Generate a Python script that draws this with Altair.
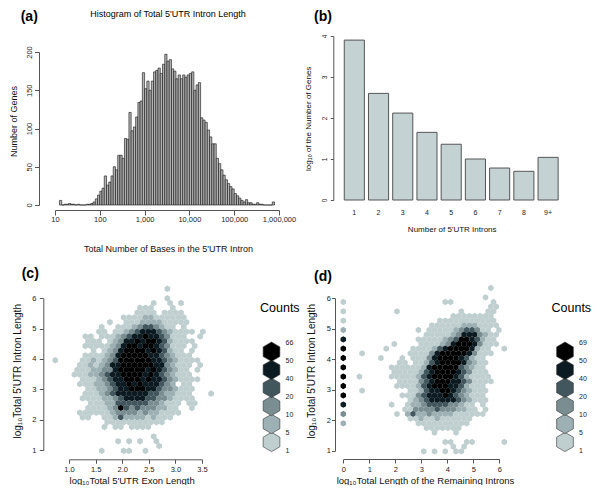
import json
import altair as alt
import pandas as pd

FONT = "Liberation Sans"
W, H = 584, 477

# ---------------- Panel (a): histogram of log10 total 5'UTR intron length ----------------
HIST_FIRST_EDGE = 1.10
HIST_BIN_WIDTH = 0.05
HIST_COUNTS = [
    6, 0, 1, 1, 2, 1, 1, 0, 1, 0, 0, 0, 1, 1, 2, 4, 8, 13, 18, 22,
    38, 26, 30, 38, 50, 46, 65, 65, 61, 87, 86, 121, 97, 102, 115, 134, 136, 173, 152, 162,
    150, 162, 174, 176, 179, 172, 184, 197, 188, 190, 178, 175, 165, 170, 165, 170, 167, 170, 172, 174,
    150, 157, 160, 114, 111, 108, 98, 89, 80, 80, 61, 54, 46, 39, 33, 28, 24, 21, 15, 12,
    9, 6, 4, 7, 3, 3, 1, 1, 3, 1, 1, 0, 0, 0, 0, 4,
]
HIST_X_TICKS = [1, 2, 3, 4, 5, 6]
HIST_X_LABELS = ["10", "100", "1,000", "10,000", "100,000", "1,000,000"]
HIST_Y_TICKS = [0, 50, 100, 150, 200]

# ---------------- Panel (b): number of 5'UTR introns ----------------
INTRON_CATS = ["1", "2", "3", "4", "5", "6", "7", "8", "9+"]
INTRON_LOG_GENES = [3.90, 2.60, 2.12, 1.65, 1.36, 1.00, 0.78, 0.70, 1.04]
B_Y_TICKS = [0, 1, 2, 3, 4]

# ---------------- Hexbin panels (c) and (d) ----------------
HEX_LEVELS = [1, 2, 3, 4, 5, 6]
HEX_COLORS = ["#bfcfd0", "#9db0b3", "#7a8e92", "#41575d", "#0c1b21", "#000000"]
C_LEGEND_LABELS = ["1", "5", "10", "20", "40", "50", "66"]
D_LEGEND_LABELS = ["1", "5", "10", "20", "40", "50", "69"]

# rows from top to bottom, one char per hex column ('.' = empty, 1..6 = count class)
C_HEX_ROWS = [
    ".....................1........",
    "..............................",
    ".....................1........",
    "..................1..1.1......",
    "................111...1.......",
    "...............1111.1111......",
    ".............111122111111.....",
    "..........1..111222211111.....",
    ".........1..11123443211.1.....",
    "........11.112345554321111.1..",
    "......11.1112345565543111..1..",
    "......111.1235565665421111....",
    "......1111123566566543111.1...",
    ".......1.123566665654211.1....",
    "......11112356666655432111....",
    "1....1121234666666554321111...",
    ".....112123556666665532111.1..",
    "....111223356666656543211.1...",
    "....1112234556666565432111....",
    ".....1112345566656554321111...",
    ".....111223455656555432.11....",
    "......11223455666554332111....",
    "......11123455555544322111...1",
    ".....111122345555443321111....",
    ".......11122444444332111.11...",
    "......11112364343332211..1....",
    ".....1111112333323221111......",
    ".....11..1124222212111........",
    "..........11111111111.........",
    ".........1.11.1111............",
    "..............................",
    "..................1...........",
    "............1.1.1..1..........",
    "...................1..........",
    ".........1...11..1............",
]
C_GRID = {"x0": 0.69, "dx": 0.1028, "y0": 0.975, "dy": 0.157}

D_HEX_ROWS = [
    "...........................1...",
    "...............................",
    "..........................1....",
    "1..................11.......1..",
    "...........................11..",
    "1.........1...........1....11..",
    "....................11111111...",
    "1.................11111111111..",
    "................1111112221111..",
    "2.............1.111112344311.1.",
    "...............11111235553211..",
    "5.............111112346654211..",
    ".........1....111123566653111..",
    "6.......1....111124566665211..1",
    "...1........1111356666653111...",
    "6......1...1.11135666654211....",
    "..........11.11245666653211....",
    "6........111111256666643211....",
    ".........111112456666543111....",
    "6..1.....1111124566665421111...",
    "..........111134566655431111...",
    "6.........11112456665542111....",
    "...1........112455665432111....",
    "6..........1113455565432111....",
    "............123455555432111....",
    "5........1..1223444433211.1....",
    "...........11333343332211.1....",
    "3.........1.242232222111111....",
    "............112112111111.......",
    "2.............1111111111.......",
    "...............1111111.........",
    ".................1...1.........",
    "...............................",
    "...................11..11.....1",
    "....................1.1........",
    "...............1.1.1.11........",
]
D_GRID = {"x0": 0.0, "dx": 0.2064, "y0": 0.98, "dy": 0.1531}

C_X_TICKS = [1, 1.5, 2, 2.5, 3, 3.5]
D_X_TICKS = [0, 1, 2, 3, 4, 5, 6]
HEX_Y_TICKS = [1, 2, 3, 4, 5, 6]

HEX_PATH = "M0,-1L0.866,-0.5L0.866,0.5L0,1L-0.866,0.5L-0.866,-0.5Z"


def hex_frame(rows, grid):
    recs = []
    n = len(rows)
    for idx, row in enumerate(rows):
        j = n - 1 - idx
        for i, ch in enumerate(row):
            if ch.isdigit():
                recs.append({
                    "x": grid["x0"] + (i + 0.5 * (j % 2)) * grid["dx"],
                    "y": grid["y0"] + j * grid["dy"],
                    "level": int(ch),
                })
    return pd.DataFrame(recs)


def axis(**kw):
    base = dict(domainColor="#555555", tickColor="#555555", labelColor="#222222",
                titleColor="#111111", labelFont=FONT, titleFont=FONT,
                titleFontWeight="normal", grid=False, domainWidth=1, tickWidth=1,
                labelFlush=False, labelOverlap=False, titleAlign="center",
                titleBaseline="middle")
    base.update(kw)
    return alt.Axis(**base)


color_enc = alt.Color("level:O", scale=alt.Scale(domain=HEX_LEVELS, range=HEX_COLORS), legend=None)

# ---------------- (a) ----------------
hist_df = pd.DataFrame({
    "lo": [HIST_FIRST_EDGE + k * HIST_BIN_WIDTH for k in range(len(HIST_COUNTS))],
    "count": HIST_COUNTS,
})
hist_df["hi"] = hist_df["lo"] + HIST_BIN_WIDTH
label_expr = json.dumps(HIST_X_LABELS) + "[round(datum.value) - 1]"

panel_a = alt.Chart(hist_df).mark_rect(fill="#b3b3b3", stroke="#111111", strokeWidth=0.6).encode(
    x=alt.X("lo:Q", scale=alt.Scale(domain=[1, 6], range=[47, 271], nice=False, zero=False),
            axis=axis(orient="bottom", offset=-275, values=HIST_X_TICKS, labelExpr=label_expr,
                      tickSize=5, labelPadding=0, labelFontSize=7.5,
                      title="Total Number of Bases in the 5'UTR Intron", titleFontSize=9,
                      titleX=160, titleY=38)),
    x2="hi:Q",
    y=alt.Y("count:Q", scale=alt.Scale(domain=[0, 200], range=[197, 44], nice=False),
            axis=axis(orient="left", offset=-31, values=HIST_Y_TICKS, tickSize=4.5,
                      labelPadding=1, labelAngle=270, labelAlign="center", labelBaseline="bottom",
                      labelFontSize=7.5, title="Number of Genes", titleFontSize=9,
                      titleAngle=270, titleX=-26, titleY=113)),
    y2=alt.datum(0),
)

# ---------------- (b) ----------------
b_df = pd.DataFrame({"cat": INTRON_CATS, "val": INTRON_LOG_GENES})
panel_b = alt.Chart(b_df).mark_bar(fill="#c4d2d4", stroke="#555555", strokeWidth=1).encode(
    x=alt.X("cat:N", sort=INTRON_CATS,
            scale=alt.Scale(range=[334.2, 552.2], paddingInner=0.17, paddingOuter=0.085),
            axis=axis(orient="bottom", offset=-285, domain=False, ticks=False, tickSize=0,
                      labelPadding=8, labelAngle=0, labelFontSize=7,
                      title="Number of 5'UTR Introns", titleFontSize=8,
                      titleX=443.7, titleY=29)),
    y=alt.Y("val:Q", scale=alt.Scale(domain=[0, 4], range=[192, 28], nice=False),
            axis=axis(orient="left", offset=-325.3, values=B_Y_TICKS, tickSize=3,
                      labelPadding=3, labelAngle=270, labelAlign="center", labelBaseline="bottom",
                      labelFontSize=6.5, title="log₁₀ of the Number of Genes", titleFontSize=8,
                      titleAngle=270, titleX=-25.3, titleY=110.3)),
)

# ---------------- (c) ----------------
c_df = hex_frame(C_HEX_ROWS, C_GRID)
panel_c = alt.Chart(c_df).mark_point(shape=HEX_PATH, filled=True, size=42, opacity=1).encode(
    x=alt.X("x:Q", scale=alt.Scale(domain=[1, 3.5], range=[61, 194], nice=False, zero=False),
            axis=axis(orient="bottom", offset=-25.7, values=C_X_TICKS, tickSize=4,
                      labelPadding=2, labelFontSize=7.5,
                      title="log₁₀Total 5'UTR Exon Length", titleFontSize=9.5,
                      titleX=123.7, titleY=21)),
    y=alt.Y("y:Q", scale=alt.Scale(domain=[1, 6], range=[442, 290.3], nice=False, zero=False),
            axis=axis(orient="left", offset=-35.3, values=HEX_Y_TICKS, tickSize=4,
                      labelPadding=3.5, labelAngle=0, labelFontSize=7.5,
                      title="log₁₀Total 5'UTR Intron Length", titleFontSize=10,
                      titleAngle=270, titleX=-26.3, titleY=362.8)),
    color=color_enc,
)

# ---------------- (d) ----------------
d_df = hex_frame(D_HEX_ROWS, D_GRID)
panel_d = alt.Chart(d_df).mark_point(shape=HEX_PATH, filled=True, size=40, opacity=1).encode(
    x=alt.X("x:Q", scale=alt.Scale(domain=[0, 6], range=[335.3, 491.3], nice=False, zero=False),
            axis=axis(orient="bottom", offset=-26, values=D_X_TICKS, tickSize=4,
                      labelPadding=2, labelFontSize=7.5,
                      title="log₁₀Total Length of the Remaining Introns", titleFontSize=9.5,
                      titleX=417, titleY=21)),
    y=alt.Y("y:Q", scale=alt.Scale(domain=[1, 6], range=[442.7, 290.3], nice=False, zero=False),
            axis=axis(orient="left", offset=-327, values=HEX_Y_TICKS, tickSize=3.5,
                      labelPadding=1.2, labelAngle=0, labelFontSize=7.5,
                      title="log₁₀Total 5'UTR Intron Length", titleFontSize=10,
                      titleAngle=270, titleX=-23.3, titleY=362.8)),
    color=color_enc,
)


# ---------------- hex legends ----------------
def hex_legend(labels, hex_x, label_x):
    sym = pd.DataFrame({"pos": [k + 0.5 for k in range(len(HEX_LEVELS))], "level": HEX_LEVELS})
    lab = pd.DataFrame({"pos": list(range(len(labels))), "label": labels})
    yscale = alt.Scale(domain=[0, len(HEX_LEVELS)], range=[443, 334.7])
    hexes = alt.Chart(sym).mark_point(shape=HEX_PATH, filled=True, size=372, opacity=1,
                                      stroke="#333333", strokeWidth=0.6).encode(
        x=alt.value(hex_x), y=alt.Y("pos:Q", scale=yscale, axis=None), color=color_enc)
    texts = alt.Chart(lab).mark_text(align="left", baseline="middle", fontSize=7, font=FONT,
                                     color="#222222").encode(
        x=alt.value(label_x), y=alt.Y("pos:Q", scale=yscale, axis=None), text="label:N")
    return [hexes, texts]


def note(text, x, y, size, weight="normal", align="left"):
    return alt.Chart(pd.DataFrame({"t": [text]})).mark_text(
        align=align, baseline="middle", fontSize=size, fontWeight=weight, font=FONT, color="black"
    ).encode(x=alt.value(x), y=alt.value(y), text="t:N")


layers = [panel_a, panel_b, panel_c, panel_d]
layers += hex_legend(C_LEGEND_LABELS, 263.5, 277.5)
layers += hex_legend(D_LEGEND_LABELS, 557, 571)
layers += [
    note("Histogram of Total 5'UTR Intron Length", 160, 6, 9, align="center"),
    note("(a)", 12.7, 8.5, 14, "bold"),
    note("(b)", 306, 8.5, 14, "bold"),
    note("(c)", 13.7, 266, 14, "bold"),
    note("(d)", 306, 268.7, 14, "bold"),
    note("Counts", 252, 300, 12.5),
    note("Counts", 543.5, 300, 12.5),
]

chart = alt.layer(*layers).resolve_scale(
    x="independent", y="independent"
).properties(
    width=W, height=H, padding=0, autosize=alt.AutoSizeParams(type="none")
).configure(font=FONT).configure_view(stroke=None)

chart.save("out.html", embed_options={"renderer": "svg", "actions": False})
